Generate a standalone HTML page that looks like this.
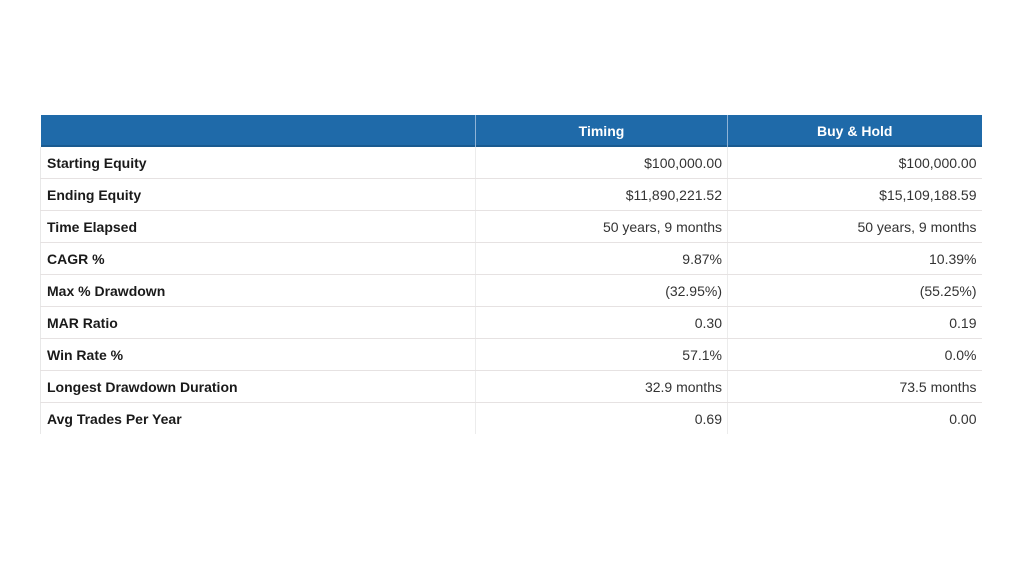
<!DOCTYPE html>
<html><head><meta charset="utf-8"><style>
body{margin:0;width:1024px;height:576px;background:#fff;font-family:"Liberation Sans",Arial,sans-serif;position:relative;overflow:hidden}
table{position:absolute;left:40px;top:115px;width:941px;border-collapse:collapse;table-layout:fixed}
th{background:#1f6aa9;color:#fff;font-size:14px;font-weight:bold;height:32px;padding:0;border-left:1px solid #8fb3d6;text-align:center;box-shadow:inset 0 -2px 0 #195a90}
th:first-child{border-left:none}
td{height:31px;font-size:14px;color:#222;border-bottom:1px solid #e6e2e2;border-left:1px solid #ececec;padding:0 5px}
td:first-child{font-weight:bold;border-left:1px solid #e8e8e8;padding-left:6px;color:#1a1a1a}
td.v{text-align:right;color:#333}
tr:last-child td{border-bottom:none}
</style></head><body>
<table>
<colgroup><col style="width:435px"><col style="width:252px"><col style="width:254px"></colgroup>
<thead><tr><th></th><th>Timing</th><th>Buy &amp; Hold</th></tr></thead>
<tbody>
<tr><td>Starting Equity</td><td class="v">$100,000.00</td><td class="v">$100,000.00</td></tr>
<tr><td>Ending Equity</td><td class="v">$11,890,221.52</td><td class="v">$15,109,188.59</td></tr>
<tr><td>Time Elapsed</td><td class="v">50 years, 9 months</td><td class="v">50 years, 9 months</td></tr>
<tr><td>CAGR %</td><td class="v">9.87%</td><td class="v">10.39%</td></tr>
<tr><td>Max % Drawdown</td><td class="v">(32.95%)</td><td class="v">(55.25%)</td></tr>
<tr><td>MAR Ratio</td><td class="v">0.30</td><td class="v">0.19</td></tr>
<tr><td>Win Rate %</td><td class="v">57.1%</td><td class="v">0.0%</td></tr>
<tr><td>Longest Drawdown Duration</td><td class="v">32.9 months</td><td class="v">73.5 months</td></tr>
<tr><td>Avg Trades Per Year</td><td class="v">0.69</td><td class="v">0.00</td></tr>
</tbody></table>
</body></html>
